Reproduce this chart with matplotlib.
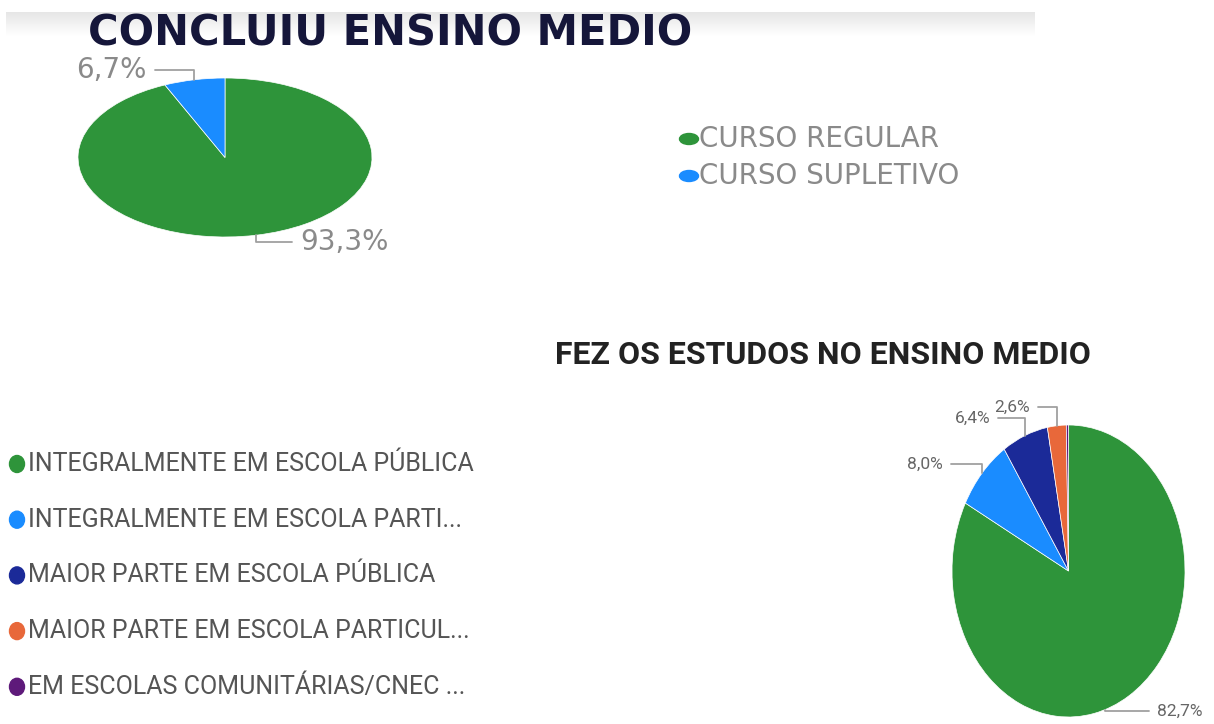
import matplotlib
matplotlib.use("Agg")
import matplotlib.pyplot as plt
import matplotlib.patches as mpatches
import numpy as np

W, H = 1214, 724

# ---- dados ----
top_title = "CONCLUIU ENSINO MEDIO"
top_labels = ["CURSO REGULAR", "CURSO SUPLETIVO"]
top_values = [93.3, 6.7]
top_colors = ["#2e943a", "#1a8cff"]

bot_title = "FEZ OS ESTUDOS NO ENSINO MEDIO"
bot_labels = ["INTEGRALMENTE EM ESCOLA PÚBLICA",
              "INTEGRALMENTE EM ESCOLA PARTI...",
              "MAIOR PARTE EM ESCOLA PÚBLICA",
              "MAIOR PARTE EM ESCOLA PARTICUL...",
              "EM ESCOLAS COMUNITÁRIAS/CNEC ..."]
bot_values = [82.7, 8.0, 6.4, 2.6, 0.3]
bot_colors = ["#2e943a", "#1a8cff", "#1b2a98", "#e8683a", "#5e1a7a"]

narrow = ["Roboto", "DejaVu Sans"]


def fmt(v):
    return ("%.1f%%" % v).replace(".", ",")


def pie_box(fig, box, values, colors):
    x0, y0, x1, y1 = box
    ax = fig.add_axes([x0 / W, 1 - y1 / H, (x1 - x0) / W, (y1 - y0) / H])
    wedges, _ = ax.pie(values, colors=colors, startangle=90, counterclock=False,
                       wedgeprops=dict(edgecolor="white", linewidth=0.5))
    ax.set_aspect("auto")
    ax.set_xlim(-1, 1)
    ax.set_ylim(-1, 1)
    ax.axis("off")
    return ax, wedges


def put_labels(ov, ax, wedges, values, specs, fs, family, color):
    for w, v, sp in zip(wedges, values, specs):
        if sp is None:
            continue
        tx, ty, ha, ang = sp
        if ang is None:
            ang = (w.theta1 + w.theta2) / 2.0
        a = np.deg2rad(ang)
        xy = (np.cos(a), np.sin(a))
        rel = (1, 0.5) if ha == "right" else (0, 0.5)
        ov.annotate(fmt(v), xy=xy, xycoords=ax.transData,
                    xytext=(tx, ty), textcoords=ov.transData,
                    ha=ha, va="center", fontsize=fs, family=family, color=color,
                    arrowprops=dict(arrowstyle="-", color="#a0a0a0", lw=1.3,
                                    connectionstyle="angle,angleA=0,angleB=90,rad=0",
                                    shrinkA=4, shrinkB=0, relpos=rel))


fig = plt.figure(figsize=(W / 100, H / 100), dpi=100)
fig.patch.set_facecolor("white")

ax_top, w_top = pie_box(fig, (78, 78, 372, 237), top_values, top_colors)
ax_bot, w_bot = pie_box(fig, (952, 425, 1185, 717), bot_values, bot_colors)

ov = fig.add_axes([0, 0, 1, 1])
ov.axis("off")
ov.patch.set_alpha(0)

# faixa cinza do print
grad = np.linspace(0.90, 1.0, 50).reshape(-1, 1)
ov.imshow(grad, cmap="gray", vmin=0, vmax=1, extent=[6, 1035, 36, 12], aspect="auto")
ov.set_xlim(0, W)
ov.set_ylim(H, 0)

# titulos
ov.text(88, 33, top_title, fontsize=30, fontweight="heavy", family="DejaVu Sans",
        color="#15163a", ha="left", va="center")
ov.text(555, 355, bot_title, fontsize=23, fontweight="bold", family=narrow,
        color="#222222", ha="left", va="center")

# rotulos
put_labels(ov, ax_top, w_top, top_values,
           [(300, 242, "left", None), (147, 70, "right", None)],
           20, "DejaVu Sans", "#8a8a8a")
put_labels(ov, ax_bot, w_bot, bot_values,
           [(1157, 711, "left", -72), (943, 464, "right", None),
            (990, 418, "right", None), (1030, 407, "right", None), None],
           12.5, "Roboto", "#666666")

# legenda de cima
for i, (lab, c) in enumerate(zip(top_labels, top_colors)):
    y = 139 + i * 37
    ov.add_patch(mpatches.Ellipse((689, y), 19, 11, color=c))
    ov.text(699, y, lab, fontsize=20, family="DejaVu Sans", color="#8a8a8a",
            ha="left", va="center")

# legenda de baixo
for i, (lab, c) in enumerate(zip(bot_labels, bot_colors)):
    y = 464 + i * 55.7
    ov.add_patch(mpatches.Ellipse((17, y), 15, 17, color=c))
    ov.text(28, y, lab, fontsize=18, family=narrow, color="#555555",
            ha="left", va="center")

fig.savefig("out.png", dpi=100, facecolor="white")
